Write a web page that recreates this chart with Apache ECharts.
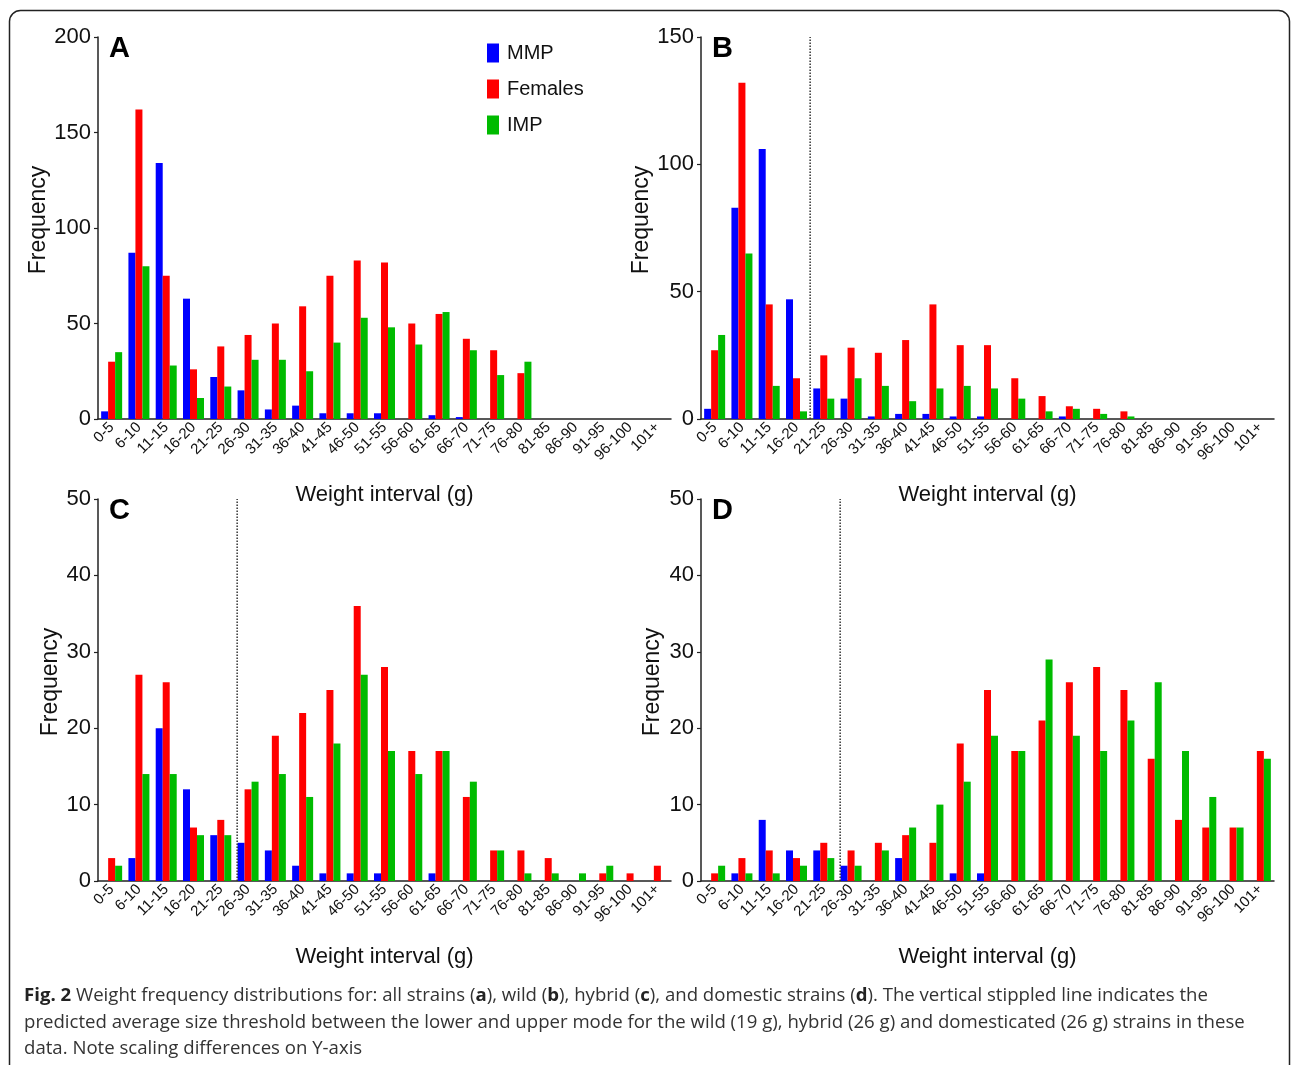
<!DOCTYPE html>
<html><head><meta charset="utf-8">
<script src="https://cdn.jsdelivr.net/npm/echarts@6/dist/echarts.min.js"></script>
<style>html,body{margin:0;padding:0;background:#fff}#c{width:1292px;height:1065px}</style>
</head><body><div id="c"></div>
<script>
// ---------- data ----------
const categories = ['0-5','6-10','11-15','16-20','21-25','26-30','31-35','36-40','41-45','46-50','51-55','56-60','61-65','66-70','71-75','76-80','81-85','86-90','91-95','96-100','101+'];
const seriesNames = ['MMP','Females','IMP'];

const mmpA = [4,87,134,63,22,15,5,7,3,3,3,0,2,1,0,0,0,0,0,0,0];
const femA = [30,162,75,26,38,44,50,59,75,83,82,50,55,42,36,24,0,0,0,0,0];
const impA = [35,80,28,11,17,31,31,25,40,53,48,39,56,36,23,30,0,0,0,0,0];

const mmpB = [4,83,106,47,12,8,1,2,2,1,1,0,0,1,0,0,0,0,0,0,0];
const femB = [27,132,45,16,25,28,26,31,45,29,29,16,9,5,4,3,0,0,0,0,0];
const impB = [33,65,13,3,8,16,13,7,12,13,12,8,3,4,2,1,0,0,0,0,0];

const mmpC = [0,3,20,12,6,5,4,2,1,1,1,0,1,0,0,0,0,0,0,0,0];
const femC = [3,27,26,7,8,12,19,22,25,36,28,17,17,11,4,4,3,0,1,1,2];
const impC = [2,14,14,6,6,13,14,11,18,27,17,14,17,13,4,1,1,1,2,0,0];

const mmpD = [0,1,8,4,4,2,0,3,0,1,1,0,0,0,0,0,0,0,0,0,0];
const femD = [1,3,4,3,5,4,5,6,5,18,25,17,21,26,28,25,16,8,7,7,17];
const impD = [2,1,1,2,3,2,4,7,10,13,19,17,29,19,17,21,26,17,11,7,16];

// y-axis scales (tick labels)
const yMax = [200,150,50,50];
const yStep = [50,50,10,10];
// threshold line positions on the category scale (null = none)
const thresholdPos = [null, 3.5, 4.6, 4.6];

// ---------- layout ----------
const colors = ['#0000ff','#ff0000','#00bb00'];
const panels = [
  {letter:'A', data:[mmpA,femA,impA], left:98,  top:37,  fGap:45},
  {letter:'B', data:[mmpB,femB,impB], left:701, top:37,  fGap:48},
  {letter:'C', data:[mmpC,femC,impC], left:98,  top:499, fGap:33},
  {letter:'D', data:[mmpD,femD,impD], left:701, top:499, fGap:37}
];
const GW = 573, GH = 382;
const FONT = '"Liberation Sans", Arial, sans-serif';
const axisColor = '#222';

const grid = [], xAxis = [], yAxis = [], series = [], graphic = [];
panels.forEach((p, i) => {
  grid.push({left:p.left, top:p.top, width:GW, height:GH, containLabel:false});
  xAxis.push({
    type:'category', gridIndex:i, data:categories, boundaryGap:true,
    name:'Weight interval (g)', nameLocation:'middle', nameGap:65,
    nameTextStyle:{fontFamily:FONT, fontSize:22, color:'#111'},
    axisLine:{onZero:false, lineStyle:{color:axisColor, width:1.5}},
    axisTick:{alignWithLabel:true, length:5, lineStyle:{color:axisColor, width:1.2}},
    axisLabel:{interval:0, rotate:45, fontFamily:FONT, fontSize:15, color:'#111', margin:6},
    splitLine:{show:false}
  });
  xAxis.push({type:'value', gridIndex:i, min:-0.5, max:categories.length-0.5, show:false});
  yAxis.push({
    type:'value', gridIndex:i, min:0, max:yMax[i], interval:yStep[i],
    name:'Frequency', nameLocation:'middle', nameGap:p.fGap,
    nameTextStyle:{fontFamily:FONT, fontSize:23, color:'#111', padding:[0,0,0,16]},
    axisLine:{show:true, onZero:false, lineStyle:{color:axisColor, width:1.5}},
    axisTick:{show:true, length:4, lineStyle:{color:axisColor, width:1.2}},
    axisLabel:{fontFamily:FONT, fontSize:22, color:'#111', margin:7},
    splitLine:{show:false}
  });
  p.data.forEach((arr, k) => {
    series.push({
      type:'bar', name:seriesNames[k], xAxisIndex:2*i, yAxisIndex:i,
      data:arr, barWidth:7, barGap:'0%',
      itemStyle:{color:colors[k]}, silent:true, animation:false
    });
  });
  if (thresholdPos[i] !== null) {
    series.push({
      type:'line', xAxisIndex:2*i+1, yAxisIndex:i, silent:true, animation:false,
      symbol:'none', data:[[thresholdPos[i],0],[thresholdPos[i],yMax[i]]],
      lineStyle:{color:'#333', width:1.5, type:'dotted'}, z:5
    });
  }
  graphic.push({type:'text', left:p.left+11, top:p.top-3,
    style:{text:p.letter, fontFamily:FONT, fontSize:29, fontWeight:'bold', fill:'#000'}});
});

// border
graphic.push({type:'rect', shape:{x:9.5, y:10.5, width:1280, height:1120, r:11},
  style:{fill:'none', stroke:'#222', lineWidth:1.5}, z:-1});

// caption
const capFont = '"Open Sans", "Noto Sans", sans-serif';
const capSize = 18.6;
const capRich = {b:{fontFamily:capFont, fontSize:capSize, fontWeight:'bold', fill:'#222'}};
const capLines = [
  '{b|Fig. 2} Weight frequency distributions for: all strains ({b|a}), wild ({b|b}), hybrid ({b|c}), and domestic strains ({b|d}). The vertical stippled line indicates the',
  'predicted average size threshold between the lower and upper mode for the wild (19 g), hybrid (26 g) and domesticated (26 g) strains in these',
  'data. Note scaling differences on Y-axis'
];
capLines.forEach((t, j) => {
  graphic.push({type:'text', x:24, y:996 + j*26.5,
    style:{text:t, fontFamily:capFont, fontSize:capSize, fill:'#333', rich:capRich, verticalAlign:'middle'}});
});

const option = {
  animation:false,
  backgroundColor:'#fff',
  legend:{
    data:seriesNames, orient:'vertical', left:487, top:43, padding:0,
    itemWidth:12, itemHeight:19, itemGap:16, icon:'rect',
    textStyle:{fontFamily:FONT, fontSize:20, color:'#111', padding:[0,0,0,3]},
    selectedMode:false
  },
  grid, xAxis, yAxis, series, graphic
};
const chart = echarts.init(document.getElementById('c'));
chart.setOption(option);
</script></body></html>
